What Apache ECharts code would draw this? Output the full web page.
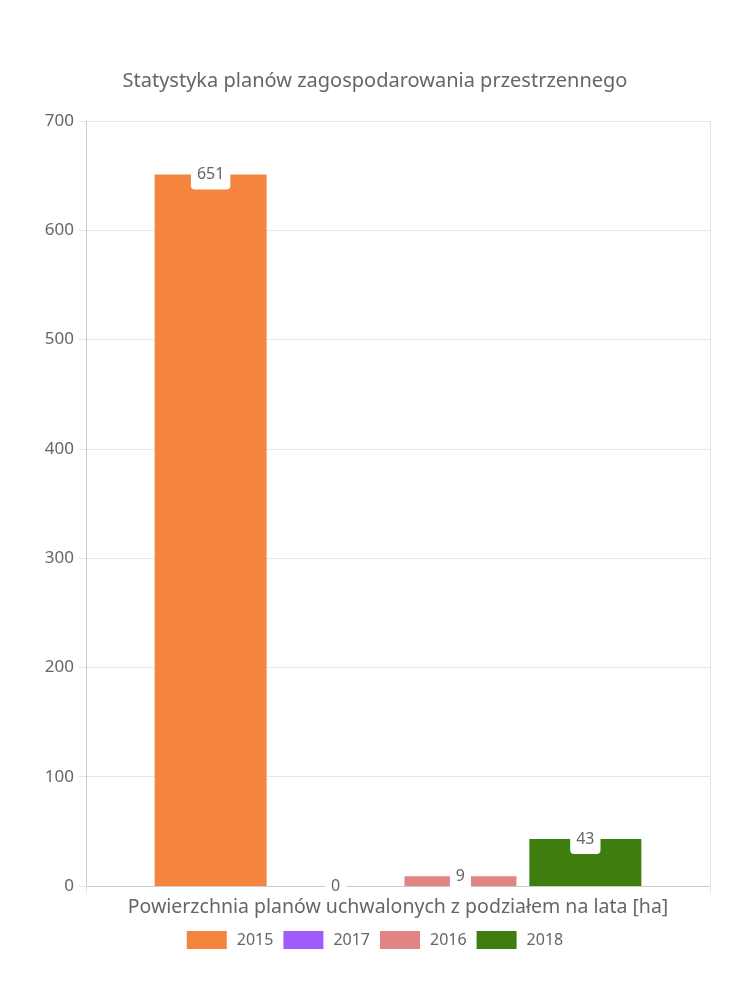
<!DOCTYPE html>
<html>
<head>
<meta charset="utf-8">
<style>
    html,body{margin:0;padding:0;background:#fff;}
    #chart{width:750px;height:1000px;}
</style>
<script src="https://cdn.jsdelivr.net/npm/echarts@6/dist/echarts.min.js"></script>
</head>
<body>
<div id="chart"></div>
<script>
var titleText = 'Statystyka planów zagospodarowania przestrzennego';
var categories = ['Powierzchnia planów uchwalonych z podziałem na lata [ha]'];
var years = ['2015', '2017', '2016', '2018'];
var values = [651, 0, 9, 43];
var colors = ['#F5843F', '#A05BFF', '#E08484', '#3E7E0E'];
var yTicks = [0, 100, 200, 300, 400, 500, 600, 700];

(function() {
    var font = 'Noto Sans';
    var gridColor = '#e6e6e6';
    var textColor = '#666';

    var series = [];
    for (var i = 0; i < years.length; i++) {
        series.push({
            name: years[i],
            type: 'bar',
            data: [values[i]],
            barCategoryGap: '22%',
            barGap: '11.5%',
            itemStyle: {color: colors[i]},
            label: {
                show: true,
                position: 'top',
                distance: -15,
                color: textColor,
                fontFamily: font,
                fontSize: 16,
                lineHeight: 16,
                backgroundColor: '#fff',
                borderRadius: [0, 0, 4, 4],
                padding: [4, 6, 7, 6]
            }
        });
    }

    var myChart = echarts.init(document.getElementById('chart'));
    myChart.setOption({
        animation: false,
        title: {
            text: titleText,
            left: 'center',
            top: 66,
            textStyle: {color: textColor, fontFamily: font, fontSize: 20, fontWeight: 'normal'}
        },
        legend: {
            data: years,
            bottom: 46,
            left: 'center',
            itemWidth: 40,
            itemHeight: 18,
            itemGap: 10,
            icon: 'rect',
            textStyle: {color: textColor, fontFamily: font, fontSize: 16, padding: [0, 0, 0, 5]}
        },
        grid: {left: 86, right: 40, top: 121, bottom: 114, containLabel: false},
        xAxis: {
            type: 'category',
            data: categories,
            boundaryGap: true,
            axisLine: {lineStyle: {color: '#ccc'}},
            axisTick: {show: true, length: 7, lineStyle: {color: gridColor}},
            splitLine: {show: true, lineStyle: {color: gridColor}},
            axisLabel: {color: textColor, fontFamily: font, fontSize: 19.5, margin: 11}
        },
        yAxis: {
            type: 'value',
            min: yTicks[0],
            max: yTicks[yTicks.length - 1],
            interval: 100,
            axisLine: {show: true, lineStyle: {color: '#ccc'}},
            axisTick: {show: true, length: 8, lineStyle: {color: gridColor}},
            splitLine: {lineStyle: {color: gridColor}},
            axisLabel: {color: textColor, fontFamily: font, fontSize: 17, margin: 12}
        },
        series: series
    });
})()
</script>
</body>
</html>
